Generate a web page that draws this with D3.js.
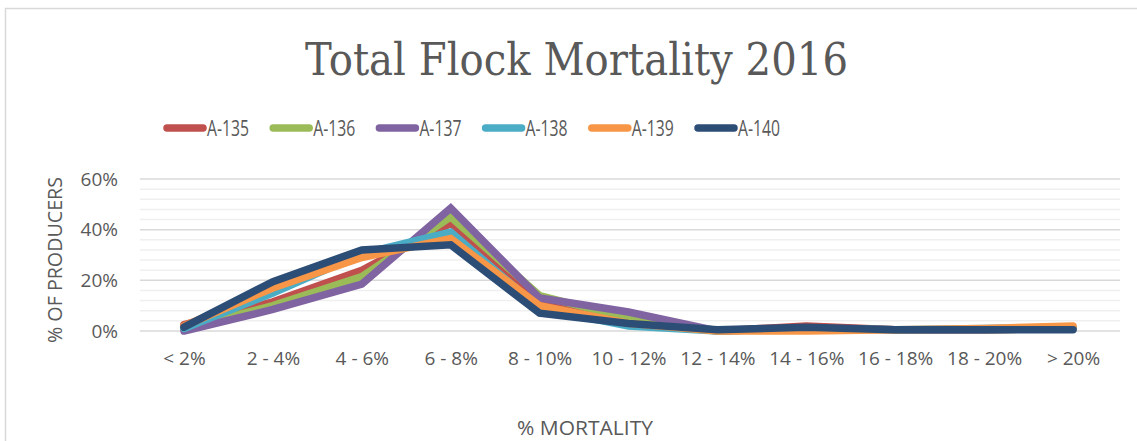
<!DOCTYPE html>
<html>
<head>
<meta charset="utf-8">
<script src="https://cdn.jsdelivr.net/npm/d3@7"></script>
<style>
  body { margin: 0; background: #fff; }
  svg { display: block; }
  text { fill: #595959; }
</style>
</head>
<body>
<script>
const width = 1137
const height = 441

// data (% of producers)
const categories = ['< 2%', '2 - 4%', '4 - 6%', '6 - 8%', '8 - 10%', '10 - 12%',
    '12 - 14%', '14 - 16%', '16 - 18%', '18 - 20%', '> 20%']
const seriesNames = ['A-135', 'A-136', 'A-137', 'A-138', 'A-139', 'A-140']
const a135 = [2.5, 11.5, 24, 42.5, 12, 4, 0, 2, 0.5, 0.5, 1]
const a136 = [1, 10, 21.5, 45, 14, 5, 0, 1, 0.5, 0.5, 1]
const a137 = [0, 8.5, 18.5, 48.5, 13, 7.5, 0, 1, 0.5, 0.5, 1]
const a138 = [1, 15, 30.5, 39, 9, 2, 0, 1, 0.5, 1, 1.5]
const a139 = [2, 17, 29, 36.5, 10, 3, 0, 0, 0.5, 1, 2]
const a140 = [1.5, 19.5, 32, 34, 7, 3, 0.5, 1.5, 0.5, 0.5, 0.5]
const seriesValues = [a135, a136, a137, a138, a139, a140]
const colors = ['#c0504d', '#9bbb59', '#8064a2', '#4bacc6', '#f79646', '#2c4d75']
const yTicks = [0, 20, 40, 60]

const margin = {left: 140, right: 17}

const svg = d3.select('body').append('svg')
    .attr('width', width).attr('height', height)

// chart border (only left and top show in the frame)
svg.append('rect')
    .attr('x', 5.5).attr('y', 8.5)
    .attr('width', width + 10).attr('height', height + 10)
    .attr('fill', 'none').attr('stroke', '#d9d9d9').attr('stroke-width', 1.5)

const x = d3.scalePoint()
    .domain(categories)
    .range([184, 1073])

const y = d3.scaleLinear()
    .domain([0, 60])
    .range([331, 179])

// gridlines: minor every 4%, major every 20%
const minor = d3.range(0, 61, 4).filter(v => v % 20 !== 0)
svg.append('g').selectAll('line').data(minor).join('line')
    .attr('x1', margin.left).attr('x2', width - margin.right)
    .attr('y1', d => y(d)).attr('y2', d => y(d))
    .attr('stroke', '#efefef').attr('stroke-width', 1.5)
svg.append('g').selectAll('line').data(yTicks).join('line')
    .attr('x1', margin.left).attr('x2', width - margin.right)
    .attr('y1', d => y(d)).attr('y2', d => y(d))
    .attr('stroke', '#d9d9d9').attr('stroke-width', 1.5)

// y axis labels
const yAxis = svg.append('g')
    .attr('transform', 'translate(118,0)')
    .call(d3.axisLeft(y).tickValues(yTicks).tickFormat(d => d + '%').tickSize(0).tickPadding(0))
yAxis.select('.domain').remove()
yAxis.selectAll('text')
    .attr('font-family', 'Open Sans').attr('font-size', 19).attr('fill', '#595959')

// x axis labels
const xAxis = svg.append('g')
    .attr('transform', 'translate(0,351)')
    .call(d3.axisBottom(x).tickSize(0).tickPadding(0))
xAxis.select('.domain').remove()
xAxis.selectAll('text')
    .attr('font-family', 'Open Sans').attr('font-size', 19).attr('fill', '#595959')

// lines
const line = d3.line()
    .x((d, i) => x(categories[i]))
    .y(d => y(d))

svg.append('g').selectAll('path').data(seriesValues).join('path')
    .attr('d', line)
    .attr('fill', 'none')
    .attr('stroke', (d, i) => colors[i])
    .attr('stroke-width', 7.5)
    .attr('stroke-linecap', 'round')
    .attr('stroke-linejoin', 'miter')

// title
svg.append('text')
    .attr('x', 305).attr('y', 75)
    .attr('font-family', 'DejaVu Serif').attr('font-size', 45)
    .attr('textLength', 543).attr('lengthAdjust', 'spacingAndGlyphs')
    .text('Total Flock Mortality 2016')

// legend
const legend = svg.append('g').selectAll('g').data(seriesNames).join('g')
    .attr('transform', (d, i) => `translate(${167 + i * 106.2},128)`)
legend.append('line')
    .attr('x1', 0).attr('x2', 36)
    .attr('stroke', (d, i) => colors[i])
    .attr('stroke-width', 7.5)
    .attr('stroke-linecap', 'round')
legend.append('text')
    .attr('x', 40).attr('y', 7.5)
    .attr('font-family', 'Open Sans').attr('font-size', 21)
    .attr('textLength', 42).attr('lengthAdjust', 'spacingAndGlyphs')
    .text(d => d)

// axis titles
svg.append('text')
    .attr('transform', 'translate(62,343) rotate(-90)')
    .attr('font-family', 'Open Sans').attr('font-size', 20)
    .attr('textLength', 166).attr('lengthAdjust', 'spacingAndGlyphs')
    .text('% OF PRODUCERS')

svg.append('text')
    .attr('x', 517).attr('y', 435)
    .attr('font-family', 'Open Sans').attr('font-size', 20)
    .attr('textLength', 136).attr('lengthAdjust', 'spacingAndGlyphs')
    .text('% MORTALITY')
</script>
</body>
</html>
